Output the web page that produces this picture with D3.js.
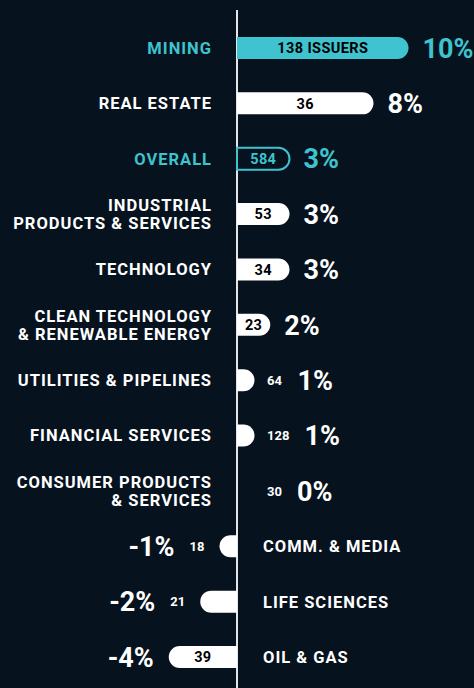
<!DOCTYPE html>
<html>
<head>
<meta charset="utf-8">
<script src="https://cdn.jsdelivr.net/npm/d3@7"></script>
<style>
  html, body { margin: 0; padding: 0; background: #06121d; }
  svg { display: block; }
  text { font-family: Roboto, "DejaVu Sans", sans-serif; font-weight: 700; }
</style>
</head>
<body>
<div id="wrapper"></div>
<script>
// sector labels (lines separated by |)
const sectors = [
  "MINING", "REAL ESTATE", "OVERALL", "INDUSTRIAL|PRODUCTS & SERVICES", "TECHNOLOGY",
  "CLEAN TECHNOLOGY|& RENEWABLE ENERGY", "UTILITIES & PIPELINES", "FINANCIAL SERVICES",
  "CONSUMER PRODUCTS|& SERVICES", "COMM. & MEDIA", "LIFE SCIENCES", "OIL & GAS"
]
// bar length in percent
const changes = [9.8, 7.8, 3.0, 3.0, 3.0, 1.9, 1.0, 1.0, 0, -1.0, -2.1, -3.9]
// printed percent labels
const pctLabels = ["10%", "8%", "3%", "3%", "3%", "2%", "1%", "1%", "0%", "-1%", "-2%", "-4%"]
// number of issuers
const issuers = [138, 36, 584, 53, 34, 23, 64, 128, 30, 18, 21, 39]

const teal = "#3ec3cf"
const white = "#ffffff"
const bg = "#06121d"

const dimensions = { width: 474, height: 688 }

const svg = d3.select("#wrapper").append("svg")
    .attr("width", dimensions.width)
    .attr("height", dimensions.height)

const xScale = d3.scaleLinear()
  .domain([-5, 10])
  .range([149.5, 412])

const yScale = d3.scalePoint()
  .domain(sectors)
  .range([48, 657])

const x0 = xScale(0)
const barH = 22
const r = barH / 2

const data = sectors.map((s, i) => ({
  sector: s, value: changes[i], pct: pctLabels[i], n: issuers[i], i
}))

const isHighlight = d => d.sector === "MINING" || d.sector === "OVERALL"

function barPath(d) {
  const y = yScale(d.sector) - r
  const xe = xScale(d.value)
  if (d.value > 0) {
    return `M${x0},${y}H${xe - r}A${r},${r} 0 0 1 ${xe - r},${y + barH}H${x0}Z`
  }
  return `M${x0},${y}H${xe + r}A${r},${r} 0 0 0 ${xe + r},${y + barH}H${x0}Z`
}

// axis line
svg.append("line")
    .attr("x1", x0).attr("x2", x0)
    .attr("y1", 10).attr("y2", dimensions.height)
    .attr("stroke", "#e6e6e6")
    .attr("stroke-width", 2)

// bars
svg.selectAll(".bar")
  .data(data.filter(d => d.value !== 0))
  .join("path")
    .attr("class", "bar")
    .attr("d", barPath)
    .attr("fill", d => d.sector === "OVERALL" ? bg : d.sector === "MINING" ? teal : white)
    .attr("stroke", d => d.sector === "OVERALL" ? teal : "none")
    .attr("stroke-width", 2)

// sector labels
data.forEach(d => {
  const lines = d.sector.split("|")
  const neg = d.value < 0
  const t = svg.append("text")
      .attr("x", neg ? x0 + 26 : x0 - 25)
      .attr("y", yScale(d.sector))
      .attr("text-anchor", neg ? "start" : "end")
      .attr("fill", isHighlight(d) ? teal : white)
      .style("font-size", "16.5px")
      .style("letter-spacing", "1px")
  lines.forEach((l, k) => {
    t.append("tspan")
        .attr("x", neg ? x0 + 26 : x0 - 25)
        .attr("dy", k === 0 ? `${0.36 - (lines.length - 1) * 0.55}em` : "1.1em")
        .text(l)
  })
})

// counts and percents
data.forEach(d => {
  const y = yScale(d.sector)
  const w = Math.abs(xScale(d.value) - x0)
  const inside = d.value > 0 ? w >= 30 : w >= 50
  const label = d.sector === "MINING" ? `${d.n} ISSUERS` : `${d.n}`
  let countText
  if (inside) {
    countText = svg.append("text")
        .attr("x", (x0 + xScale(d.value)) / 2)
        .attr("y", y)
        .attr("dy", "0.36em")
        .attr("text-anchor", "middle")
        .attr("fill", d.sector === "OVERALL" ? teal : "#000")
        .style("font-size", "14.5px")
        .style("letter-spacing", "0.4px")
        .text(label)
  } else {
    const cx = d.value >= 0 ? Math.max(xScale(d.value) + 12, x0 + 30) : xScale(d.value) - 15
    countText = svg.append("text")
        .attr("x", cx)
        .attr("y", y)
        .attr("dy", "0.36em")
        .attr("text-anchor", d.value >= 0 ? "start" : "end")
        .attr("fill", white)
        .style("font-size", "13px")
        .text(label)
  }
  const bb = countText.node().getBBox()
  let px
  if (d.value >= 0) {
    px = inside ? xScale(d.value) + 14 : bb.x + bb.width + 15
  } else {
    px = inside ? xScale(d.value) - 15 : bb.x - 15
  }
  svg.append("text")
      .attr("x", px)
      .attr("y", y)
      .attr("dy", "0.36em")
      .attr("text-anchor", d.value >= 0 ? "start" : "end")
      .attr("fill", isHighlight(d) ? teal : white)
      .style("font-size", "27px")
      .text(d.pct)
})
</script>
</body>
</html>
